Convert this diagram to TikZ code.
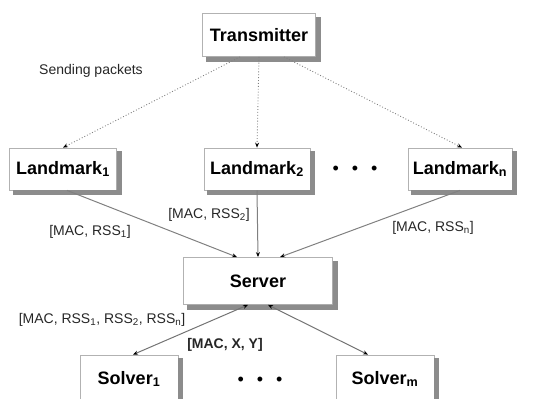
\documentclass[tikz,border=0pt]{standalone}
\usepackage{fontspec}
\setmainfont{Liberation Sans}
\usetikzlibrary{arrows.meta, positioning}

\definecolor{shadegray}{RGB}{140,140,140}
\tikzset{
  box/.style={draw=gray!60, fill=white, line width=0.8pt, inner sep=0pt,
    font=\bfseries\fontsize{18}{20}\selectfont},
  boxshadow/.style={fill=shadegray, draw=shadegray, line width=0.4pt},
  lbl/.style={font=\fontsize{14}{16}\selectfont, text=black!85},
  tip/.style={-{Stealth[length=5pt,width=4pt,black]}},
  sendline/.style={tip, draw=gray, dotted, line width=0.9pt},
  dataline/.style={tip, draw=gray, line width=1pt},
  twoway/.style={{Stealth[length=5pt,width=4pt,black]}-{Stealth[length=5pt,width=4pt,black]}, draw=gray!90!black, line width=1pt}
}
% shadow strip along the right and lower side of a box
\newcommand{\boxshade}[1]{%
  \filldraw[boxshadow] ([yshift=-4pt]#1.north east) -| ([xshift=4pt, yshift=-4pt]#1.south east)
    -| ([xshift=4pt]#1.south west) -- (#1.south east) -- cycle;}

\begin{document}
\begin{tikzpicture}[x=1pt, y=-1pt]
        \useasboundingbox (0,0) rectangle (542,399);
        % boxes
        \node[box, minimum width=113pt, minimum height=43pt] (tx) at (259,35) {Transmitter};
        \node[box, minimum width=107pt, minimum height=42pt] (lm1) at (63,169) {Landmark\textsubscript{1}};
        \node[box, minimum width=106pt, minimum height=42pt] (lm2) at (257,169) {Landmark\textsubscript{2}};
        \node[box, minimum width=104pt, minimum height=42pt] (lmn) at (460,169) {Landmark\textsubscript{n}};
        \node[box, minimum width=149pt, minimum height=47pt] (srv) at (258,281) {Server};
        \node[box, minimum width=98pt, minimum height=48pt] (sol1) at (129,379) {Solver\textsubscript{1}};
        \node[box, minimum width=98pt, minimum height=48pt] (solm) at (385,379) {Solver\textsubscript{m}};
        % shadows
        \boxshade{tx} \boxshade{lm1} \boxshade{lm2} \boxshade{lmn}
        \boxshade{srv} \boxshade{sol1} \boxshade{solm}
        \node[font=\fontsize{18}{20}\selectfont] (dots1) at (355,170) {\textbullet\hspace{13pt}\textbullet\hspace{13pt}\textbullet};
        \node[font=\fontsize{18}{20}\selectfont] (dots2) at (260,381) {\textbullet\hspace{13pt}\textbullet\hspace{13pt}\textbullet};
        % labels
        \node[lbl] (send) at (91,71) {Sending packets};
        \node[lbl] (rss1) at (90,232) {[MAC, RSS\textsubscript{1}]};
        \node[lbl] (rss2) at (209,215) {[MAC, RSS\textsubscript{2}]};
        \node[lbl] (rssn) at (433,228) {[MAC, RSS\textsubscript{n}]};
        \node[lbl] (rssall) at (102,320) {[MAC, RSS\textsubscript{1}, RSS\textsubscript{2}, RSS\textsubscript{n}]};
        \node[lbl, font=\bfseries\fontsize{14}{16}\selectfont] (mxy) at (225,345) {[MAC, X, Y]};
        % connectors
        \draw[sendline] ([xshift=-19pt]tx.south) -- (lm1.north);
        \draw[sendline] (tx.south) -- (lm2.north);
        \draw[sendline] ([xshift=25pt]tx.south) -- ([xshift=2pt]lmn.north);
        \draw[dataline] ([xshift=4pt]lm1.south) -- ([xshift=-21pt]srv.north);
        \draw[dataline] (lm2.south) -- (srv.north);
        \draw[dataline] (lmn.south) -- ([xshift=22pt]srv.north);
        \draw[twoway] ([xshift=-10pt]srv.south) -- ([xshift=4pt]sol1.north);
        \draw[twoway] ([xshift=10pt]srv.south) -- ([xshift=-17pt]solm.north);
\end{tikzpicture}
\end{document}
